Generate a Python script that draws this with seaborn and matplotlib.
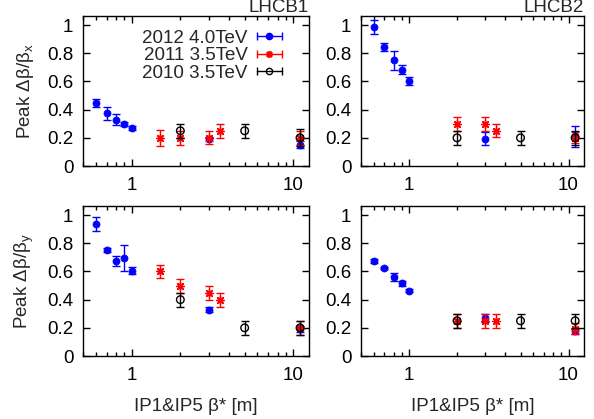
import numpy as np
import pandas as pd
import seaborn as sns
import matplotlib
matplotlib.use('Agg')
import matplotlib.pyplot as plt
from matplotlib.lines import Line2D
from matplotlib.legend_handler import HandlerLine2D
from matplotlib.ticker import FixedLocator, FuncFormatter, NullFormatter, LogLocator

# ---- data ----
beta_2012 = [0.6, 0.7, 0.8, 0.9, 1.0, 3.0, 11.0]
beta_2011_b1 = [1.5, 2.0, 3.0, 3.5, 11.0]
beta_2011_b2 = [2.0, 3.0, 3.5, 11.0]
beta_2010 = [2.0, 5.0, 11.0]

# LHCB1, x plane
b1x_2012 = [0.445, 0.375, 0.33, 0.30, 0.27, 0.19, 0.15]
b1x_2012_err = [0.028, 0.045, 0.038, 0.015, 0.015, 0.015, 0.025]
b1x_2011 = [0.20, 0.20, 0.20, 0.25, 0.20]
b1x_2011_err = [0.055, 0.05, 0.045, 0.05, 0.05]
b1x_2010 = [0.25, 0.25, 0.20]
b1x_2010_err = [0.05, 0.05, 0.06]

# LHCB2, x plane
b2x_2012 = [0.985, 0.845, 0.75, 0.685, 0.605, 0.195, 0.21]
b2x_2012_err = [0.05, 0.025, 0.07, 0.03, 0.03, 0.045, 0.075]
b2x_2011 = [0.30, 0.30, 0.25, 0.20]
b2x_2011_err = [0.05, 0.05, 0.045, 0.04]
b2x_2010 = [0.20, 0.20, 0.20]
b2x_2010_err = [0.05, 0.05, 0.05]

# LHCB1, y plane
b1y_2012 = [0.94, 0.755, 0.675, 0.695, 0.605, 0.33, 0.19]
b1y_2012_err = [0.05, 0.015, 0.035, 0.09, 0.025, 0.015, 0.02]
b1y_2011 = [0.60, 0.50, 0.45, 0.40, 0.20]
b1y_2011_err = [0.045, 0.05, 0.05, 0.05, 0.05]
b1y_2010 = [0.40, 0.20, 0.20]
b1y_2010_err = [0.05, 0.05, 0.05]

# LHCB2, y plane
b2y_2012 = [0.675, 0.625, 0.56, 0.515, 0.465, 0.27, 0.175]
b2y_2012_err = [0.015, 0.01, 0.03, 0.02, 0.01, 0.03, 0.02]
b2y_2011 = [0.25, 0.25, 0.25, 0.195]
b2y_2011_err = [0.05, 0.05, 0.05, 0.04]
b2y_2010 = [0.25, 0.25, 0.25]
b2y_2010_err = [0.05, 0.05, 0.05]

labels = ['2012 4.0TeV', '2011 3.5TeV', '2010 3.5TeV']
colors = ['#0000ff', '#ff0000', '#000000']

FS = 13.5

sns.set_style('ticks')
plt.rcParams['font.family'] = ['Liberation Sans', 'DejaVu Sans']
plt.rcParams['mathtext.default'] = 'regular'


def make_df(x, y, err, label):
    return pd.DataFrame({'beta': x, 'peak': y, 'err': err, 'year': label})


panels = [
    ('LHCB1', 'x', [make_df(beta_2012, b1x_2012, b1x_2012_err, labels[0]),
                    make_df(beta_2011_b1, b1x_2011, b1x_2011_err, labels[1]),
                    make_df(beta_2010, b1x_2010, b1x_2010_err, labels[2])]),
    ('LHCB2', 'x', [make_df(beta_2012, b2x_2012, b2x_2012_err, labels[0]),
                    make_df(beta_2011_b2, b2x_2011, b2x_2011_err, labels[1]),
                    make_df(beta_2010, b2x_2010, b2x_2010_err, labels[2])]),
    ('', 'y', [make_df(beta_2012, b1y_2012, b1y_2012_err, labels[0]),
               make_df(beta_2011_b1, b1y_2011, b1y_2011_err, labels[1]),
               make_df(beta_2010, b1y_2010, b1y_2010_err, labels[2])]),
    ('', 'y', [make_df(beta_2012, b2y_2012, b2y_2012_err, labels[0]),
               make_df(beta_2011_b2, b2y_2011, b2y_2011_err, labels[1]),
               make_df(beta_2010, b2y_2010, b2y_2010_err, labels[2])]),
]

rects = [
    [83/594, 1-166/419, 226/594, 150/419],
    [361/594, 1-166/419, 223/594, 150/419],
    [83/594, 1-356/419, 226/594, 150/419],
    [361/594, 1-356/419, 223/594, 150/419],
]

fig = plt.figure(figsize=(5.94, 4.19), dpi=100)

for i, (title, plane, dfs) in enumerate(panels):
    ax = fig.add_axes(rects[i])
    for k, df in enumerate(dfs):
        c = colors[k]
        ax.errorbar(df['beta'], df['peak'], yerr=df['err'], fmt='none',
                    ecolor=c, elinewidth=1, capsize=3, capthick=1, zorder=2+2*k)
        if k == 0:
            sns.scatterplot(data=df, x='beta', y='peak', ax=ax, color=c,
                            marker='o', s=26, edgecolor=c, linewidth=0.5,
                            zorder=3+2*k, legend=False)
        elif k == 1:
            sns.scatterplot(data=df, x='beta', y='peak', ax=ax, color=c,
                            marker=(8, 2, 0), s=30, edgecolor=c, linewidth=1.0,
                            zorder=3+2*k, legend=False)
        else:
            sns.scatterplot(data=df, x='beta', y='peak', ax=ax, color=c,
                            marker='o', s=30, facecolors='none', edgecolor=c,
                            linewidth=1, zorder=3+2*k, legend=False)

    ax.set_xscale('log')
    ax.set_xlim(0.5, 12.5)
    ax.set_ylim(0, 1.065)
    ax.xaxis.set_major_locator(FixedLocator([1, 10]))
    ax.xaxis.set_major_formatter(FuncFormatter(lambda v, p: f'{v:g}'))
    ax.xaxis.set_minor_locator(LogLocator(base=10, subs=np.arange(2, 10)))
    ax.xaxis.set_minor_formatter(NullFormatter())
    ax.set_yticks([0, 0.2, 0.4, 0.6, 0.8, 1.0])
    ax.yaxis.set_major_formatter(FuncFormatter(lambda v, p: f'{v:g}'))
    ax.tick_params(which='both', direction='in', top=True, right=True,
                   labelsize=FS, width=1, colors='black')
    ax.tick_params(which='major', length=5)
    ax.tick_params(axis='x', which='major', pad=8)
    ax.tick_params(axis='y', which='major', pad=7)
    ax.tick_params(which='minor', length=3)
    for sp in ax.spines.values():
        sp.set_linewidth(1)
        sp.set_color('black')

    if i % 2 == 0:
        ax.set_ylabel(f'Peak Δβ/β$_{plane}$', fontsize=FS, labelpad=8)
    else:
        ax.set_ylabel('')
    if i >= 2:
        ax.set_xlabel('IP1&IP5 β* [m]', fontsize=FS, labelpad=10)
    else:
        ax.set_xlabel('')
    if title:
        ax.set_title(title, loc='right', fontsize=FS, pad=0)

    if i == 0:
        handles = []
        hmap = {}
        for k, c in enumerate(colors):
            bar = Line2D([], [], color=c, lw=1, marker='|', markersize=6,
                         markeredgewidth=1)
            if k == 0:
                mk = Line2D([], [], color=c, ls='none', marker='o', markersize=4.5)
            elif k == 1:
                mk = Line2D([], [], color=c, ls='none', marker=(8, 2, 0),
                            markersize=5, markeredgewidth=1.2)
            else:
                mk = Line2D([], [], color=c, ls='none', marker='o', markersize=4.5,
                            markerfacecolor='none', markeredgewidth=1)
            hmap[bar] = HandlerLine2D(numpoints=2, marker_pad=0)
            hmap[mk] = HandlerLine2D(numpoints=1)
            handles.append((bar, mk))
        ax.legend(handles, labels, handler_map=hmap, loc='upper right',
                  bbox_to_anchor=(0.92, 0.97), frameon=False, markerfirst=False,
                  fontsize=FS, borderpad=0, labelspacing=0.02,
                  handlelength=1.3, handletextpad=0.5)

fig.savefig('out.png', dpi=100)
